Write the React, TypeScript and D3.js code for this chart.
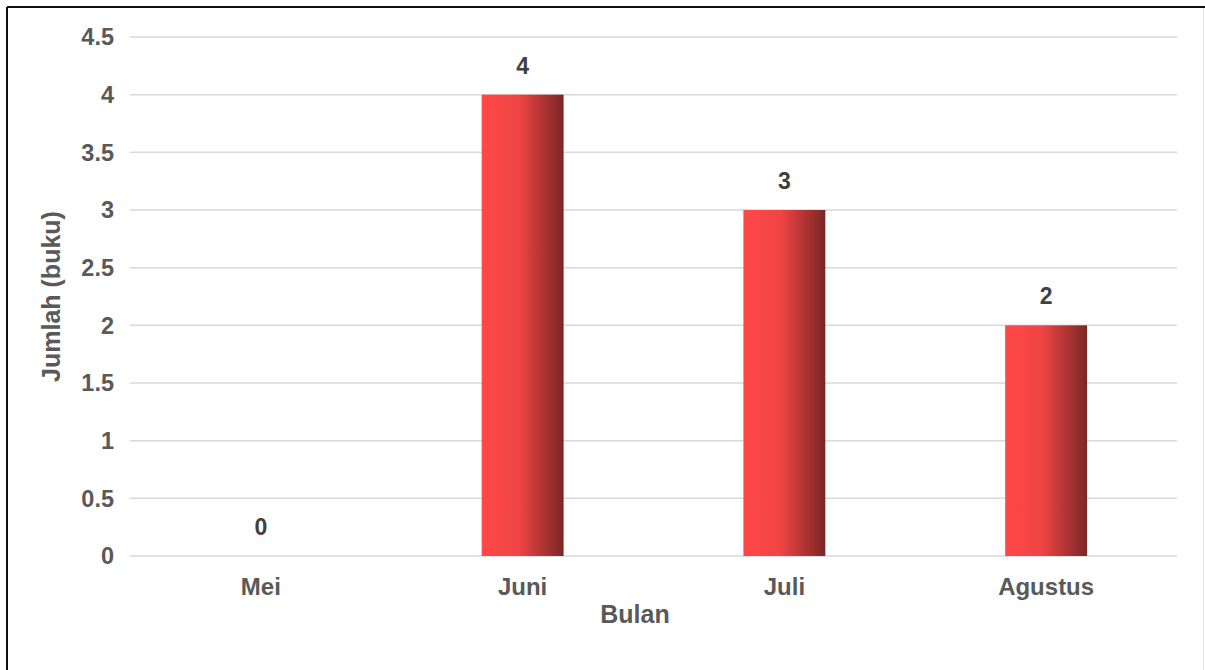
import React, { useEffect, useRef } from 'react';
import * as d3 from 'd3';

const months = ['Mei', 'Juni', 'Juli', 'Agustus'];
const counts = [0, 4, 3, 2];
const yTicks = [0, 0.5, 1, 1.5, 2, 2.5, 3, 3.5, 4, 4.5];

const App: React.FC = () => {
  const svgRef = useRef<SVGSVGElement>(null);

  useEffect(() => {
    if (!svgRef.current) return;
    const width = 1205;
    const height = 670;
    const left = 130;
    const right = 1177;
    const top = 37;
    const bottom = 556;
    const font = "'Liberation Sans', Arial, sans-serif";

    const svg = d3.select(svgRef.current);
    svg.selectAll('*').remove();
    svg.attr('width', width).attr('height', height);

    // gradient for the bars (light red -> dark red)
    const grad = svg.append('defs').append('linearGradient')
      .attr('id', 'barGrad')
      .attr('x1', '0%').attr('x2', '100%').attr('y1', '0%').attr('y2', '0%');
    grad.append('stop').attr('offset', '0%').attr('stop-color', '#ff4848');
    grad.append('stop').attr('offset', '45%').attr('stop-color', '#f04444');
    grad.append('stop').attr('offset', '100%').attr('stop-color', '#7a2727');

    svg.append('rect').attr('width', width).attr('height', height).attr('fill', '#fff');

    // frame: dark top/left, faint right
    svg.append('line').attr('x1', 7).attr('x2', width).attr('y1', 7).attr('y2', 7)
      .attr('stroke', '#111').attr('stroke-width', 2);
    svg.append('line').attr('x1', 7).attr('x2', 7).attr('y1', 7).attr('y2', height)
      .attr('stroke', '#111').attr('stroke-width', 2);
    svg.append('line').attr('x1', 1203.5).attr('x2', 1203.5).attr('y1', 8).attr('y2', height)
      .attr('stroke', '#e6e6e6').attr('stroke-width', 1);

    const x = d3.scaleBand<string>()
      .domain(months)
      .range([left, right])
      .paddingInner(0.687)
      .paddingOuter(0.687 / 2);

    const y = d3.scaleLinear().domain([0, 4.5]).range([bottom, top]);

    // gridlines
    svg.append('g')
      .selectAll('line')
      .data(yTicks)
      .join('line')
      .attr('x1', left)
      .attr('x2', right)
      .attr('y1', d => y(d))
      .attr('y2', d => y(d))
      .attr('stroke', '#d9d9d9')
      .attr('stroke-width', 1.5);

    // y tick labels
    svg.append('g')
      .selectAll('text')
      .data(yTicks)
      .join('text')
      .attr('x', 114)
      .attr('y', d => y(d))
      .attr('dy', '0.36em')
      .attr('text-anchor', 'end')
      .attr('font-family', font)
      .attr('font-weight', 'bold')
      .attr('font-size', 23.5)
      .attr('fill', '#595959')
      .text(d => String(d));

    // bars
    svg.append('g')
      .selectAll('rect')
      .data(counts)
      .join('rect')
      .attr('x', (_, i) => x(months[i])!)
      .attr('width', x.bandwidth())
      .attr('y', d => y(d))
      .attr('height', d => bottom - y(d))
      .attr('fill', 'url(#barGrad)');

    // data labels
    svg.append('g')
      .selectAll('text')
      .data(counts)
      .join('text')
      .attr('x', (_, i) => x(months[i])! + x.bandwidth() / 2)
      .attr('y', d => y(d) - 21)
      .attr('text-anchor', 'middle')
      .attr('font-family', font)
      .attr('font-weight', 'bold')
      .attr('font-size', 23)
      .attr('fill', '#404040')
      .text(d => String(d));

    // category labels
    svg.append('g')
      .selectAll('text')
      .data(months)
      .join('text')
      .attr('x', d => x(d)! + x.bandwidth() / 2)
      .attr('y', 595)
      .attr('text-anchor', 'middle')
      .attr('font-family', font)
      .attr('font-weight', 'bold')
      .attr('font-size', 24)
      .attr('fill', '#595959')
      .text(d => d);

    // axis titles
    svg.append('text')
      .attr('x', 635)
      .attr('y', 623)
      .attr('text-anchor', 'middle')
      .attr('font-family', font)
      .attr('font-weight', 'bold')
      .attr('font-size', 25)
      .attr('fill', '#595959')
      .text('Bulan');

    svg.append('text')
      .attr('transform', `translate(60,${(top + bottom) / 2}) rotate(-90)`)
      .attr('text-anchor', 'middle')
      .attr('font-family', font)
      .attr('font-weight', 'bold')
      .attr('font-size', 25)
      .attr('fill', '#595959')
      .text('Jumlah (buku)');
  }, []);

  return (
    <div style={{ position: 'absolute', left: 0, top: 0 }}>
      <svg ref={svgRef} style={{ display: 'block' }}></svg>
    </div>
  );
};

export default App;
